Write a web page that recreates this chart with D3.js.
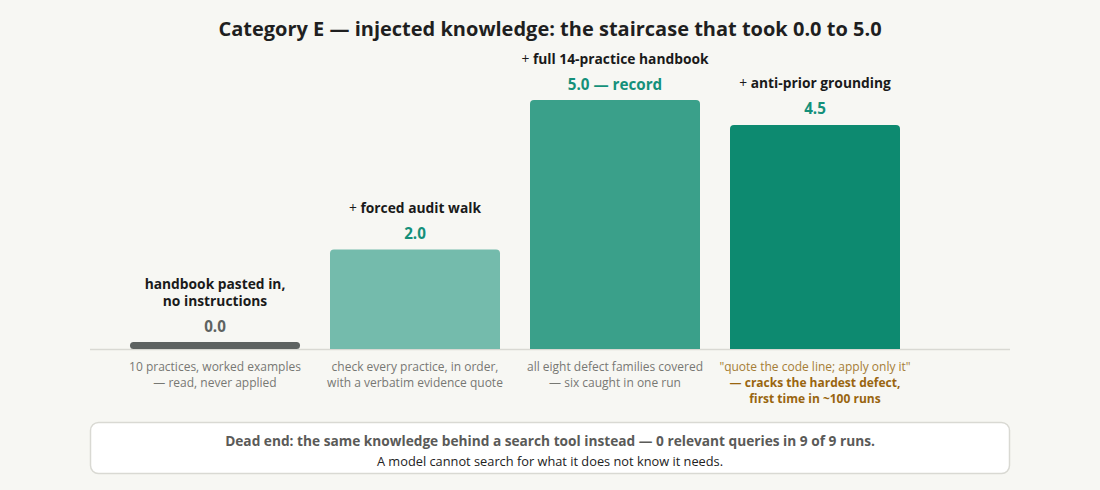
<!DOCTYPE html>
<html><head><meta charset="utf-8">
<script src="https://cdn.jsdelivr.net/npm/d3@7"></script>
<style>
html,body{margin:0;padding:0;background:#f7f7f3;}
svg{display:block;font-family:"Open Sans","Noto Sans",sans-serif;}
</style></head>
<body><svg id="c" width="1100" height="490"></svg>
<script>
const categories = ["handbook", "audit", "full", "antiprior"];
const scores = [0.0, 2.0, 5.0, 4.5];
const valueLabels = ["0.0", "2.0", "5.0 — record", "4.5"];
const stepLabels = [
  [["", "handbook pasted in,"], ["", "no instructions"]],
  [["+ ", "forced audit walk"]],
  [["+ ", "full 14-practice handbook"]],
  [["+ ", "anti-prior grounding"]]
];
const notes = [
  ["10 practices, worked examples", "— read, never applied"],
  ["check every practice, in order,", "with a verbatim evidence quote"],
  ["all eight defect families covered", "— six caught in one run"],
  ["\"quote the code line; apply only it\"", "— cracks the hardest defect,", "first time in ~100 runs"]
];
const barColors = ["#5e6361", "#74bbac", "#3aa08a", "#0d8a70"];
const titleText = "Category E — injected knowledge: the staircase that took 0.0 to 5.0";
const boxLine1 = "Dead end: the same knowledge behind a search tool instead — 0 relevant queries in 9 of 9 runs.";
const boxLine2 = "A model cannot search for what it does not know it needs.";

const svg = d3.select("#c");
const x = d3.scaleBand().domain(categories).range([115, 915]).paddingInner(0.15).paddingOuter(0.075);
const y = d3.scaleLinear().domain([0, 5]).range([349, 100]);

svg.append("text").attr("x", 550).attr("y", 35.5).attr("text-anchor", "middle")
  .attr("font-size", 20).attr("font-weight", 700).attr("fill", "#1f1f1f").text(titleText);

svg.append("line").attr("x1", 90).attr("x2", 1010).attr("y1", 349.5).attr("y2", 349.5)
  .attr("stroke", "#d9d9d3").attr("stroke-width", 1.5);

function topRounded(x0, y0, w, h, r) {
  r = Math.min(r, h, w / 2);
  return `M${x0},${y0 + h}V${y0 + r}Q${x0},${y0} ${x0 + r},${y0}H${x0 + w - r}Q${x0 + w},${y0} ${x0 + w},${y0 + r}V${y0 + h}Z`;
}

categories.forEach((c, i) => {
  const v = scores[i];
  const bx = x(c), bw = x.bandwidth(), cx = bx + bw / 2;
  let top;
  if (v === 0) {
    top = y(0) - 7;
    svg.append("rect").attr("x", bx).attr("y", top).attr("width", bw).attr("height", 7)
      .attr("rx", 3.5).attr("fill", barColors[i]);
  } else {
    top = y(v);
    svg.append("path").attr("d", topRounded(bx, top, bw, y(0) - top, 4)).attr("fill", barColors[i]);
  }
  svg.append("text").attr("x", cx).attr("y", top - 10.5).attr("text-anchor", "middle")
    .attr("font-size", 15.2).attr("font-weight", 700)
    .attr("fill", v === 0 ? "#5e6361" : "#14907a").text(valueLabels[i]);
  const lines = stepLabels[i];
  lines.forEach((ln, j) => {
    const ty = top - 36.5 - (lines.length - 1 - j) * 17;
    const t = svg.append("text").attr("x", cx).attr("y", ty).attr("text-anchor", "middle")
      .attr("font-size", 13.8).attr("fill", "#1a1a1a");
    if (ln[0]) t.append("tspan").attr("font-weight", 400).text(ln[0]);
    t.append("tspan").attr("font-weight", 700).text(ln[1]);
  });
  notes[i].forEach((n, j) => {
    const special = i === 3;
    svg.append("text").attr("x", cx).attr("y", 371 + j * 16).attr("text-anchor", "middle")
      .attr("font-size", 12)
      .attr("font-weight", special && j > 0 ? 700 : 400)
      .attr("fill", special ? (j > 0 ? "#99650f" : "#a57d36") : "#777873").text(n);
  });
});

svg.append("rect").attr("x", 90.5).attr("y", 422.5).attr("width", 919).attr("height", 51)
  .attr("rx", 8).attr("fill", "#ffffff").attr("stroke", "#d9d9d3").attr("stroke-width", 1.5);
svg.append("text").attr("x", 550).attr("y", 446).attr("text-anchor", "middle")
  .attr("font-size", 13.7).attr("font-weight", 700).attr("fill", "#5a5a58").text(boxLine1);
svg.append("text").attr("x", 550).attr("y", 466).attr("text-anchor", "middle")
  .attr("font-size", 12.8).attr("fill", "#222").text(boxLine2);
</script></body></html>
